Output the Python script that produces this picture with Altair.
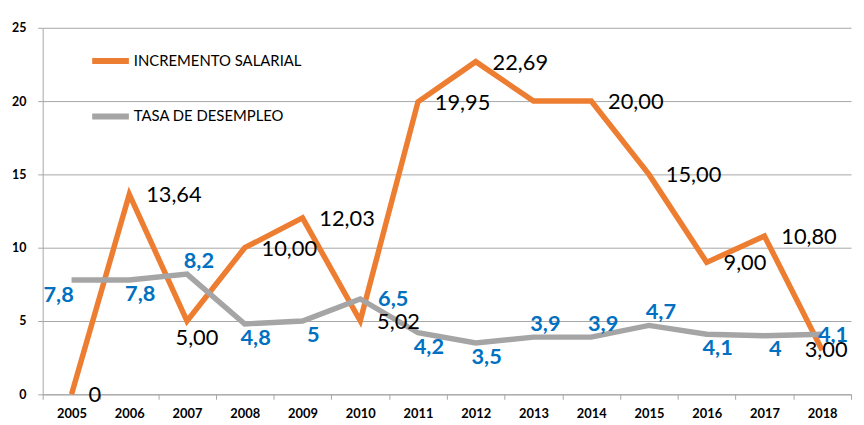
import altair as alt
import pandas as pd

years = [str(y) for y in range(2005, 2019)]
incremento = [0, 13.64, 5.00, 10.00, 12.03, 5.02, 19.95, 22.69, 20.00, 20.00, 15.00, 9.00, 10.80, 3.00]
desempleo = [7.8, 7.8, 8.2, 4.8, 5, 6.5, 4.2, 3.5, 3.9, 3.9, 4.7, 4.1, 4, 4.1]
series = ["INCREMENTO SALARIAL", "TASA DE DESEMPLEO"]
colors = ["#ED7D31", "#A5A5A5"]
# label placement categories (as in the original chart)
inc_place = ["right", "right", "below", "right", "right", "right", "right", "right",
             "none", "right", "right", "right", "right", "edge"]
des_place = ["belowleft", "below", "above", "below", "below", "right", "below", "below",
             "above", "above", "above", "below", "below", "edge"]


def fmt_inc(v):
    return "0" if v == 0 else f"{v:.2f}".replace(".", ",")


def fmt_des(v):
    return f"{v:g}".replace(".", ",")


rows = []
for i, y in enumerate(years):
    rows.append({"year": y, "serie": series[0], "valor": incremento[i],
                 "label": fmt_inc(incremento[i]), "place": inc_place[i]})
for i, y in enumerate(years):
    rows.append({"year": y, "serie": series[1], "valor": desempleo[i],
                 "label": fmt_des(desempleo[i]), "place": des_place[i]})
df = pd.DataFrame(rows)

FONT = "Lato"
GRID = "#A6A6A6"

x_enc = alt.X("year:N", sort=years,
              scale=alt.Scale(type="band", paddingInner=0, paddingOuter=0),
              axis=alt.Axis(title=None, tickBand="extent", labelAngle=0, tickSize=5,
                            domainColor=GRID, tickColor=GRID, labelFont=FONT,
                            labelFontWeight="bold", labelFontSize=13, labelColor="black",
                            labelPadding=8, grid=False))
y_enc = alt.Y("valor:Q", scale=alt.Scale(domain=[0, 25], nice=False),
              axis=alt.Axis(title=None, values=[0, 5, 10, 15, 20, 25], grid=True,
                            gridColor=GRID, domainColor=GRID, tickColor=GRID, tickSize=5,
                            labelFont=FONT, labelFontWeight="bold", labelFontSize=12.5,
                            labelColor="black", labelPadding=12))

base = alt.Chart(df).encode(x=x_enc, y=y_enc)

lines = base.mark_line(strokeWidth=5.5, strokeJoin="miter", strokeCap="butt").encode(
    color=alt.Color("serie:N", scale=alt.Scale(domain=series, range=colors),
                    legend=alt.Legend(title=None, orient="none", legendX=47, legendY=12,
                                      symbolType="stroke", symbolStrokeWidth=6,
                                      symbolSize=1369, rowPadding=22, labelFont=FONT,
                                      labelFontSize=15, labelOffset=2, labelColor="black",
                                      labelLimit=400, direction="vertical")),
    order=alt.Order("year:N"),
)

inc_style = {
    "right": dict(align="left", dx=17, dy=1),
    "below": dict(align="center", dx=10, dy=17),
    "edge": dict(align="center", dx=4, dy=0),
}
des_style = {
    "below": dict(align="center", dx=11, dy=14),
    "above": dict(align="center", dx=12, dy=-13),
    "belowleft": dict(align="center", dx=-13, dy=15),
    "right": dict(align="left", dx=18, dy=0),
    "edge": dict(align="center", dx=11, dy=1),
}

layers = [lines]
for place, st in inc_style.items():
    layers.append(
        base.mark_text(font=FONT, fontSize=22, color="black", baseline="middle", **st)
        .encode(text="label:N")
        .transform_filter((alt.datum.serie == series[0]) & (alt.datum.place == place))
    )
for place, st in des_style.items():
    layers.append(
        base.mark_text(font=FONT, fontSize=22, fontWeight="bold", color="#0070C0",
                       baseline="middle", **st)
        .encode(text="label:N")
        .transform_filter((alt.datum.serie == series[1]) & (alt.datum.place == place))
    )

chart = alt.layer(*layers).properties(
    width=816, height=370,
    autosize=alt.AutoSizeParams(type="none"),
    padding={"left": 35, "top": 18, "right": 5, "bottom": 28},
    background="white",
).configure_view(strokeWidth=0)

chart.save("out.html", embed_options={"renderer": "svg", "actions": False})
